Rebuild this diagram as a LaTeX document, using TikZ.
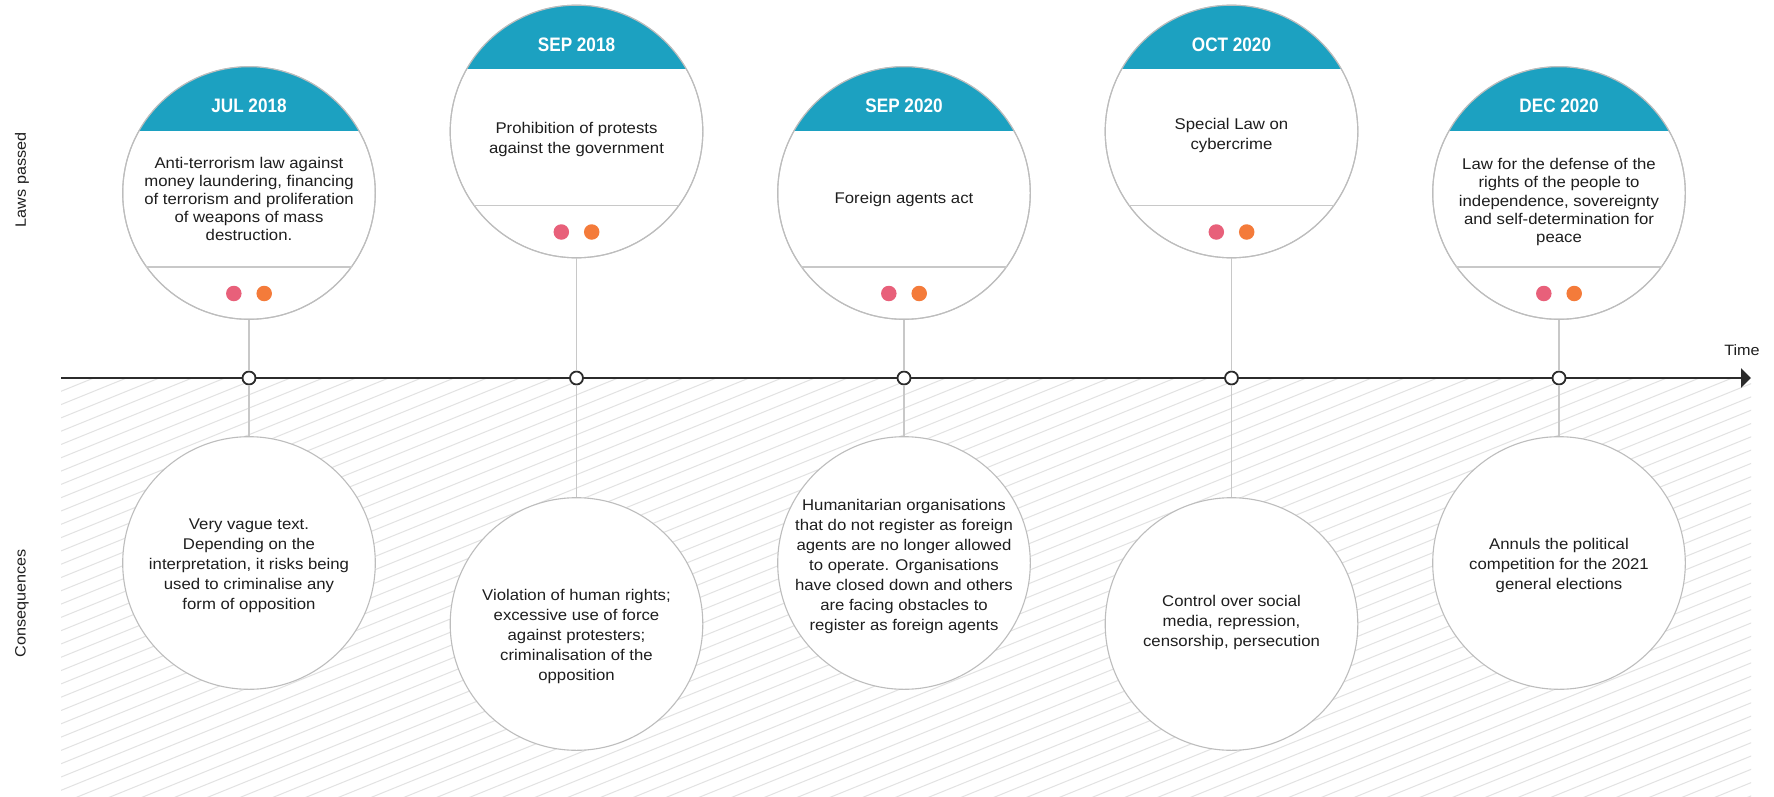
\documentclass[tikz,border=0pt]{standalone}
\usepackage{fontspec}
\setmainfont{Liberation Sans}[FakeStretch=1.08]
\newfontfamily\hdrfont{Liberation Sans}[FakeStretch=0.88]
\usetikzlibrary{arrows.meta,calc}
\definecolor{hdrblue}{HTML}{1CA1C1}
\definecolor{dotpink}{HTML}{E8607A}
\definecolor{dotorange}{HTML}{F47B3A}
\definecolor{rimgray}{HTML}{BDBDBD}
\definecolor{stemgray}{HTML}{C8C8C8}
\definecolor{hatchgray}{HTML}{E2E2E2}
\definecolor{axisdark}{HTML}{2B2B2B}
\definecolor{txtdark}{HTML}{1E1E1E}
\newcommand\LawBox[7]{%
  \node[bigcirc] (l#1) at (#2,#3) {};
  \begin{scope}
    \clip (l#1.center) circle[radius=126.3];
    \fill[hdrblue] ($(l#1.center)+(-130,-130)$) rectangle ($(l#1.center)+(130,-62)$);
  \end{scope}
  \draw[rim] (l#1.center) circle[radius=126.3];
  \draw[divider] ($(l#1.center)+(-102.6,74)$) -- ($(l#1.center)+(102.6,74)$);
  \node[hdrtext] (h#1) at ($(l#1.center)+(0,-87)$) {#4};
  \node[bodytext, font=\fontsize{15.5}{#7}\selectfont] (b#1) at (#2,#5) {#6};
  \node[dotmark, fill=dotpink] (p#1) at ($(l#1.center)+(-15.2,100.5)$) {};
  \node[dotmark, fill=dotorange] (o#1) at ($(l#1.center)+(15.2,100.5)$) {};
}
\begin{document}
\begin{tikzpicture}[x=1pt,y=-1pt,
  bigcirc/.style={circle, draw=rimgray, line width=1.1pt, fill=white, minimum size=252.6pt, inner sep=0pt},
  rim/.style={draw=rimgray, line width=1.1pt},
  divider/.style={draw=stemgray, line width=1.4pt},
  hdrtext/.style={font=\hdrfont\bfseries\fontsize{19.5}{22}\selectfont, text=white, inner sep=0pt},
  bodytext/.style={text=txtdark, align=center, inner sep=0pt},
  constext/.style={bodytext, font=\fontsize{15.5}{20}\selectfont},
  dotmark/.style={circle, minimum size=15.5pt, inner sep=0pt, draw=none},
  tdot/.style={circle, draw=axisdark, line width=1.8pt, fill=white, minimum size=13pt, inner sep=0pt},
  stem/.style={draw=stemgray, line width=1.4pt},
  hatchline/.style={draw=hatchgray, line width=1pt},
  axisline/.style={draw=axisdark, line width=2.2pt, -{Triangle[length=10pt,width=19pt]}},
  sidelabel/.style={text=txtdark, font=\fontsize{15}{18}\selectfont, inner sep=0pt}
]
\useasboundingbox (0,0) rectangle (1774,797);
\fill[white] (0,0) rectangle (1774,797);
% hatched lower band
\begin{scope}
  \clip (61,378) rectangle (1751,797);
  \foreach \k in {0,...,92} \draw[hatchline] (61,{378+\k*13.3}) -- ++(1700,-690);
\end{scope}
% time axis
\coordinate (ax0) at (61,378);
\coordinate (ax1) at (1751,378);
\draw[axisline] (ax0) -- (ax1);
\node[sidelabel] (tm) at (1742,350) {Time};
\node[sidelabel, rotate=90] (lp) at (22,180) {Laws passed};
\node[sidelabel, rotate=90] (cq) at (22,603) {Consequences};
% laws
\LawBox{1}{249}{193}{JUL 2018}{199}{Anti-terrorism law against\\money laundering, financing\\of terrorism and proliferation\\of weapons of mass\\destruction.}{18.2}
\LawBox{2}{576.5}{131.5}{SEP 2018}{139}{Prohibition of protests\\against the government}{20}
\LawBox{3}{904}{193}{SEP 2020}{199}{Foreign agents act}{20}
\LawBox{4}{1231.5}{131.5}{OCT 2020}{135}{Special Law on\\cybercrime}{20}
\LawBox{5}{1559}{193}{DEC 2020}{202}{Law for the defense of the\\rights of the people to\\independence, sovereignty\\and self-determination for\\peace}{18.2}
% axis markers
\node[tdot] (t1) at (249,378) {};
\node[tdot] (t2) at (576.5,378) {};
\node[tdot] (t3) at (904,378) {};
\node[tdot] (t4) at (1231.5,378) {};
\node[tdot] (t5) at (1559,378) {};
% consequences
\node[bigcirc] (c1) at (249,563) {};
\node[bigcirc] (c2) at (576.5,624) {};
\node[bigcirc] (c3) at (904,563) {};
\node[bigcirc] (c4) at (1231.5,624) {};
\node[bigcirc] (c5) at (1559,563) {};
\node[constext] (k1) at (249,566) {Very vague text.\\Depending on the\\interpretation, it risks being\\used to criminalise any\\form of opposition};
\node[constext] (k2) at (576.5,636) {Violation of human rights;\\excessive use of force\\against protesters;\\criminalisation of the\\opposition};
\node[constext] (k3) at (904,566) {Humanitarian organisations\\that do not register as foreign\\agents are no longer allowed\\to operate. Organisations\\have closed down and others\\are facing obstacles to\\register as foreign agents};
\node[constext] (k4) at (1231.5,622) {Control over social\\media, repression,\\censorship, persecution};
\node[constext] (k5) at (1559,565) {Annuls the political\\competition for the 2021\\general elections};
% stems
\foreach \i in {1,...,5} {
  \draw[stem] (l\i) -- (t\i);
  \draw[stem] (t\i) -- (c\i);
}
\end{tikzpicture}
\end{document}
